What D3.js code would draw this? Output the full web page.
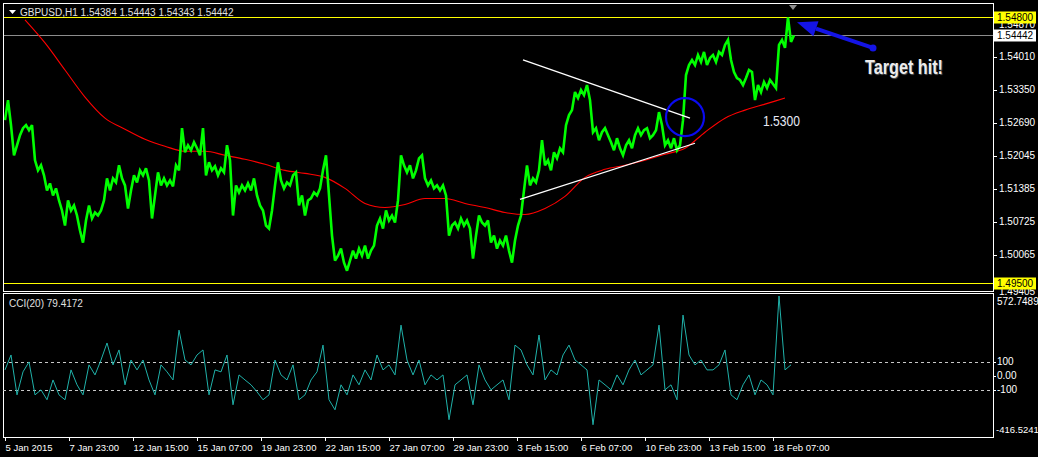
<!DOCTYPE html>
<html><head><meta charset="utf-8">
<script src="https://cdn.jsdelivr.net/npm/d3@7"></script>
<style>
html,body{margin:0;padding:0;background:#000;overflow:hidden;}
svg{display:block;}
text{font-family:"Liberation Sans",Arial,sans-serif;}
</style></head><body>
<svg id="c" width="1038" height="457"></svg>
<script>
// ---------------- DATA ----------------
const symbol = "GBPUSD,H1";
const ohlc = [1.54384, 1.54443, 1.54343, 1.54442];
const closeStep = 3; // hours between samples
const closes = [
1.5275,1.5315,1.5265,1.5205,1.5225,1.5245,1.5259,1.5265,1.5255,1.5265,
1.5195,1.5175,1.5185,1.5165,1.5135,1.5149,1.5125,1.5139,1.5115,1.5095,
1.5065,1.5115,1.5095,1.5105,1.5085,1.5055,1.5031,1.5075,1.5105,1.5079,
1.5091,1.5085,1.5095,1.5115,1.5159,1.5135,1.5159,1.5151,1.5185,1.5159,
1.5145,1.5099,1.5135,1.5165,1.5151,1.5175,1.5165,1.5179,1.5155,1.5079,
1.5125,1.5171,1.5145,1.5159,1.5145,1.5155,1.5143,1.5185,1.5175,1.5259,
1.5211,1.5225,1.5215,1.5231,1.5219,1.5205,1.5259,1.5165,1.5191,1.5175,
1.5183,1.5165,1.5179,1.5171,1.5225,1.5195,1.5085,1.5145,1.5131,1.5145,
1.5135,1.5149,1.5135,1.5159,1.5125,1.5105,1.5095,1.5065,1.5059,1.5095,
1.5145,1.5191,1.5155,1.5139,1.5151,1.5145,1.5165,1.5171,1.5105,1.5125,
1.5085,1.5115,1.5119,1.5131,1.5125,1.5139,1.5175,1.5205,1.5125,1.5045,
1.4995,1.5005,1.5019,1.4991,1.4975,1.4995,1.5015,1.4999,1.5019,1.5005,
1.5025,1.4999,1.5015,1.5025,1.5065,1.5079,1.5059,1.5095,1.5075,1.5085,
1.5071,1.5115,1.5205,1.5185,1.5171,1.5185,1.5159,1.5175,1.5199,1.5205,
1.5159,1.5145,1.5155,1.5139,1.5145,1.5135,1.5145,1.5125,1.5045,1.5065,
1.5071,1.5059,1.5079,1.5065,1.5075,1.5059,1.4999,1.5045,1.5085,1.5071,
1.5065,1.5075,1.5031,1.5045,1.5019,1.5035,1.5025,1.5045,1.5015,1.4991,
1.5035,1.5065,1.5085,1.5135,1.5185,1.5145,1.5159,1.5151,1.5175,1.5235,
1.5185,1.5195,1.5175,1.5211,1.5199,1.5219,1.5211,1.5265,1.5285,1.5295,
1.5331,1.5319,1.5335,1.5325,1.5345,1.5315,1.5251,1.5259,1.5235,1.5251,
1.5259,1.5245,1.5231,1.5215,1.5239,1.5219,1.5205,1.5225,1.5235,1.5219,
1.5245,1.5259,1.5245,1.5255,1.5259,1.5239,1.5245,1.5255,1.5291,1.5265,
1.5225,1.5235,1.5219,1.5239,1.5215,1.5225,1.5275,1.5365,1.5385,1.5395,
1.5385,1.5405,1.5391,1.5411,1.5385,1.5399,1.5405,1.5391,1.5411,1.5405,
1.5425,1.5435,1.5395,1.5371,1.5359,1.5355,1.5345,1.5359,1.5375,1.5371,
1.5315,1.5345,1.5331,1.5351,1.5339,1.5355,1.5347,1.5339,1.5425,1.5435,
1.5419,1.5480,1.5431,1.54442
];
const maStart = 20, maStep = 20; // hours
const maValues = [
1.5475,1.5429,1.5375,1.5321,1.5279,1.5257,1.5237,1.5223,1.5213,1.5213,
1.5205,1.5197,1.5187,1.5175,1.5169,1.5161,1.5139,1.5109,1.5101,1.5107,
1.5119,1.5119,1.5109,1.5101,1.5091,1.5087,1.5099,1.5123,1.5161,1.5177,
1.5185,1.5195,1.5207,1.5219,1.5251,1.5279,1.5295,1.5307,1.5319
];
const cciStep = 6;
const cciValues = [
43,150,-136,29,100,-136,-100,-171,-29,-136,-171,43,-64,-136,79,7,114,236,79,186,
-64,114,43,114,-29,-136,79,29,-29,328,114,79,150,186,-136,43,29,150,-207,7,
-29,-64,-114,-171,-136,114,7,-29,79,-171,-136,-29,29,221,-171,-243,-64,-136,7,-64,
43,-29,150,43,79,7,364,114,7,114,-64,7,-29,7,-314,-64,-29,7,-207,79,
-29,-100,-64,-29,-171,221,186,79,7,293,-29,43,7,150,221,114,79,43,-350,-29,
-64,-100,7,-64,43,114,7,43,79,364,-100,-64,-171,436,150,79,114,43,43,79,
186,-136,-171,-64,7,-136,-29,-64,-136,572.7,43,79.4172
];
const cciPeriod = 20, cciLast = 79.4172;
const cciMax = 572.7489, cciMin = -416.5241;
const cciLevels = [100, -100];
const cciAxis = [100, 0, -100];
const priceTicks = [1.54010, 1.53350, 1.52690, 1.52045, 1.51385, 1.50725, 1.50065];
const priceMax = 1.54870, priceMin = 1.49405;
const targetLevel = 1.54800, supportLevel = 1.49500, lastPrice = 1.54442;
const timeLabels = ["5 Jan 2015","7 Jan 23:00","12 Jan 15:00","15 Jan 07:00","19 Jan 23:00",
  "22 Jan 15:00","27 Jan 07:00","29 Jan 23:00","3 Feb 15:00","6 Feb 07:00","10 Feb 23:00",
  "13 Feb 15:00","18 Feb 07:00"];
const timeLabelStep = 64; // hours between labels
const totalBars = 989;
// annotations: [hourIndex, price]
const upperTrend = [[518, 1.5395], [685, 1.5279]];
const lowerTrend = [[515, 1.5117], [690, 1.5229]];
const circleAt = [680, 1.5281];
const noteText = "1.5300", noteAt = [758, 1.5271];
const arrowFrom = [868, 1.5419], arrowTo = [792, 1.5470];
const targetText = "Target hit!", targetTextAt = [858, 1.5367];

// ---------------- LAYOUT ----------------
const svg = d3.select("#c");
const L = 3, R = 993;
const mainTop = 4, mainBot = 291, cciTop = 294, cciBot = 437;

const x = d3.scaleLinear().domain([0, totalBars - 1]).range([5, 993]);
const y = d3.scaleLinear().domain([priceMin, priceMax]).range([288, 13.8]);
const yc = d3.scaleLinear().domain([cciMin, cciMax]).range([434, 296]);

const defs = svg.append("defs");
defs.append("clipPath").attr("id","cm").append("rect")
  .attr("x",L).attr("y",mainTop).attr("width",R-L).attr("height",mainBot-mainTop);
defs.append("clipPath").attr("id","cc").append("rect")
  .attr("x",L).attr("y",cciTop).attr("width",R-L).attr("height",cciBot-cciTop);

svg.append("rect").attr("width",1038).attr("height",457).attr("fill","#000");

const gm = svg.append("g").attr("clip-path","url(#cm)");
gm.append("line").attr("x1",L).attr("x2",R).attr("y1",Math.round(y(lastPrice))+0.5).attr("y2",Math.round(y(lastPrice))+0.5)
  .attr("stroke","#8c8c8c").attr("stroke-width",1);
[targetLevel, supportLevel].forEach(v => {
  gm.append("line").attr("x1",L).attr("x2",R).attr("y1",Math.round(y(v))+0.5).attr("y2",Math.round(y(v))+0.5)
    .attr("stroke","#ffff00").attr("stroke-width",1);
});
const maData = maValues.map((v,i)=>[maStart + i*maStep, v]);
gm.append("path").datum(maData)
  .attr("d", d3.line().x(d=>x(d[0])).y(d=>y(d[1])).curve(d3.curveMonotoneX))
  .attr("fill","none").attr("stroke","#ff0000").attr("stroke-width",1.1);
const pData = closes.map((v,i)=>[i*closeStep, v]);
gm.append("path").datum(pData)
  .attr("d", d3.line().x(d=>x(d[0])).y(d=>y(d[1])))
  .attr("fill","none").attr("stroke","#00ff00").attr("stroke-width",2.6).attr("stroke-linejoin","miter").attr("stroke-miterlimit",3);
[upperTrend, lowerTrend].forEach(t => {
  gm.append("line").attr("x1",x(t[0][0])).attr("y1",y(t[0][1])).attr("x2",x(t[1][0])).attr("y2",y(t[1][1]))
    .attr("stroke","#ffffff").attr("stroke-width",1.3);
});
gm.append("circle").attr("cx",x(circleAt[0])).attr("cy",y(circleAt[1])).attr("r",19)
  .attr("fill","none").attr("stroke","#0a0af0").attr("stroke-width",2.2);
gm.append("text").attr("x",x(noteAt[0])).attr("y",y(noteAt[1])).text(noteText)
  .attr("fill","#e6e9f5").attr("font-size",14).attr("dominant-baseline","middle")
  .attr("textLength",37).attr("lengthAdjust","spacingAndGlyphs");
const ax1 = x(arrowFrom[0]), ay1 = y(arrowFrom[1]), ax2 = x(arrowTo[0]), ay2 = y(arrowTo[1]);
const ang = Math.atan2(ay2-ay1, ax2-ax1);
const hl = 20, hw = 8;
const bx = ax2 - hl*Math.cos(ang), by = ay2 - hl*Math.sin(ang);
gm.append("line").attr("x1",ax1).attr("y1",ay1).attr("x2",bx).attr("y2",by)
  .attr("stroke","#1414e6").attr("stroke-width",4);
gm.append("circle").attr("cx",ax1).attr("cy",ay1).attr("r",3.5).attr("fill","#1414e6");
gm.append("path").attr("d",`M${ax2},${ay2}L${bx - hw*Math.sin(ang)},${by + hw*Math.cos(ang)}L${bx + hw*Math.sin(ang)},${by - hw*Math.cos(ang)}Z`)
  .attr("fill","#1414e6");
gm.append("text").attr("x",x(targetTextAt[0])+2).attr("y",y(targetTextAt[1])).text(targetText)
  .attr("fill","#ececec").attr("font-size",20).attr("font-weight","bold")
  .attr("textLength",78).attr("lengthAdjust","spacingAndGlyphs")
  .style("text-shadow","1px 1px 1px #555");
gm.append("path").attr("d","M9,10L16,10L12.5,14Z").attr("fill","#ffffff");
gm.append("text").attr("x",20).attr("y",16).attr("fill","#e0e0e0").attr("font-size",10)
  .text(symbol + "  " + ohlc.map(v=>v.toFixed(5)).join(" "));
svg.append("path").attr("d",`M${x(788)-4},5L${x(788)+4},5L${x(788)},10Z`).attr("fill","#909090");

svg.append("rect").attr("x",L+0.5).attr("y",mainTop-0.5).attr("width",R-L).attr("height",mainBot-mainTop+1)
  .attr("fill","none").attr("stroke","#fff").attr("stroke-width",1);
svg.append("rect").attr("x",L+0.5).attr("y",cciTop-0.5).attr("width",R-L).attr("height",cciBot-cciTop+1)
  .attr("fill","none").attr("stroke","#fff").attr("stroke-width",1);

const axFont = 10;
svg.append("text").attr("x",R+6).attr("y",25).attr("dominant-baseline","middle")
  .attr("fill","#fff").attr("font-size",axFont).text(priceMax.toFixed(5));
svg.append("text").attr("x",R+6).attr("y",292).attr("dominant-baseline","middle")
  .attr("fill","#fff").attr("font-size",axFont).text(priceMin.toFixed(5));
priceTicks.forEach(v => {
  const yy = Math.round(y(v))+0.5;
  svg.append("line").attr("x1",R).attr("x2",R+4).attr("y1",yy).attr("y2",yy).attr("stroke","#fff");
  svg.append("text").attr("x",R+6).attr("y",yy).attr("dominant-baseline","middle")
    .attr("fill","#fff").attr("font-size",axFont).text(v.toFixed(5));
});
function boxLabel(v, bg) {
  const yy = Math.round(y(v))+0.5;
  svg.append("rect").attr("x",R+1).attr("y",yy-6).attr("width",42).attr("height",12).attr("fill",bg);
  svg.append("text").attr("x",R+4).attr("y",yy+0.5).attr("dominant-baseline","middle")
    .attr("fill","#000").attr("font-size",axFont).text(v.toFixed(5));
}
boxLabel(targetLevel, "#ffff00");
boxLabel(supportLevel, "#ffff00");
boxLabel(lastPrice, "#ffffff");

const gc = svg.append("g").attr("clip-path","url(#cc)");
cciLevels.forEach(v => {
  gc.append("line").attr("x1",L).attr("x2",R).attr("y1",Math.round(yc(v))+0.5).attr("y2",Math.round(yc(v))+0.5)
    .attr("stroke","#c8c8c8").attr("stroke-dasharray","3,3");
});
const cData = cciValues.map((v,i)=>[i*cciStep, v]);
gc.append("path").datum(cData)
  .attr("d", d3.line().x(d=>x(d[0])).y(d=>yc(d[1])))
  .attr("fill","none").attr("stroke","#20b2aa").attr("stroke-width",1);
svg.append("text").attr("x",9).attr("y",304).attr("dominant-baseline","middle")
  .attr("fill","#e0e0e0").attr("font-size",10).text(`CCI(${cciPeriod}) ${cciLast.toFixed(4)}`);
cciAxis.forEach(v => {
  const yy = Math.round(yc(v))+0.5;
  svg.append("line").attr("x1",R).attr("x2",R+3).attr("y1",yy).attr("y2",yy).attr("stroke","#fff");
  svg.append("text").attr("x",R+4).attr("y",yy).attr("dominant-baseline","middle")
    .attr("fill","#fff").attr("font-size",axFont).text(v === 0 ? "0.00" : String(v));
});
svg.append("text").attr("x",R+4).attr("y",yc(cciMax)+6).attr("dominant-baseline","middle")
  .attr("fill","#fff").attr("font-size",axFont).text(cciMax.toFixed(4));
svg.append("text").attr("x",R+3).attr("y",yc(cciMin)-4).attr("dominant-baseline","middle")
  .attr("fill","#fff").attr("font-size",9.5).text(cciMin.toFixed(4));

timeLabels.forEach((t,i) => {
  const xx = Math.round(x(i*timeLabelStep))+0.5;
  svg.append("line").attr("x1",xx).attr("x2",xx).attr("y1",cciBot).attr("y2",cciBot+4).attr("stroke","#fff");
  svg.append("text").attr("x",xx).attr("y",451).attr("fill","#fff").attr("font-size",9.5).text(t);
});
</script></body></html>
